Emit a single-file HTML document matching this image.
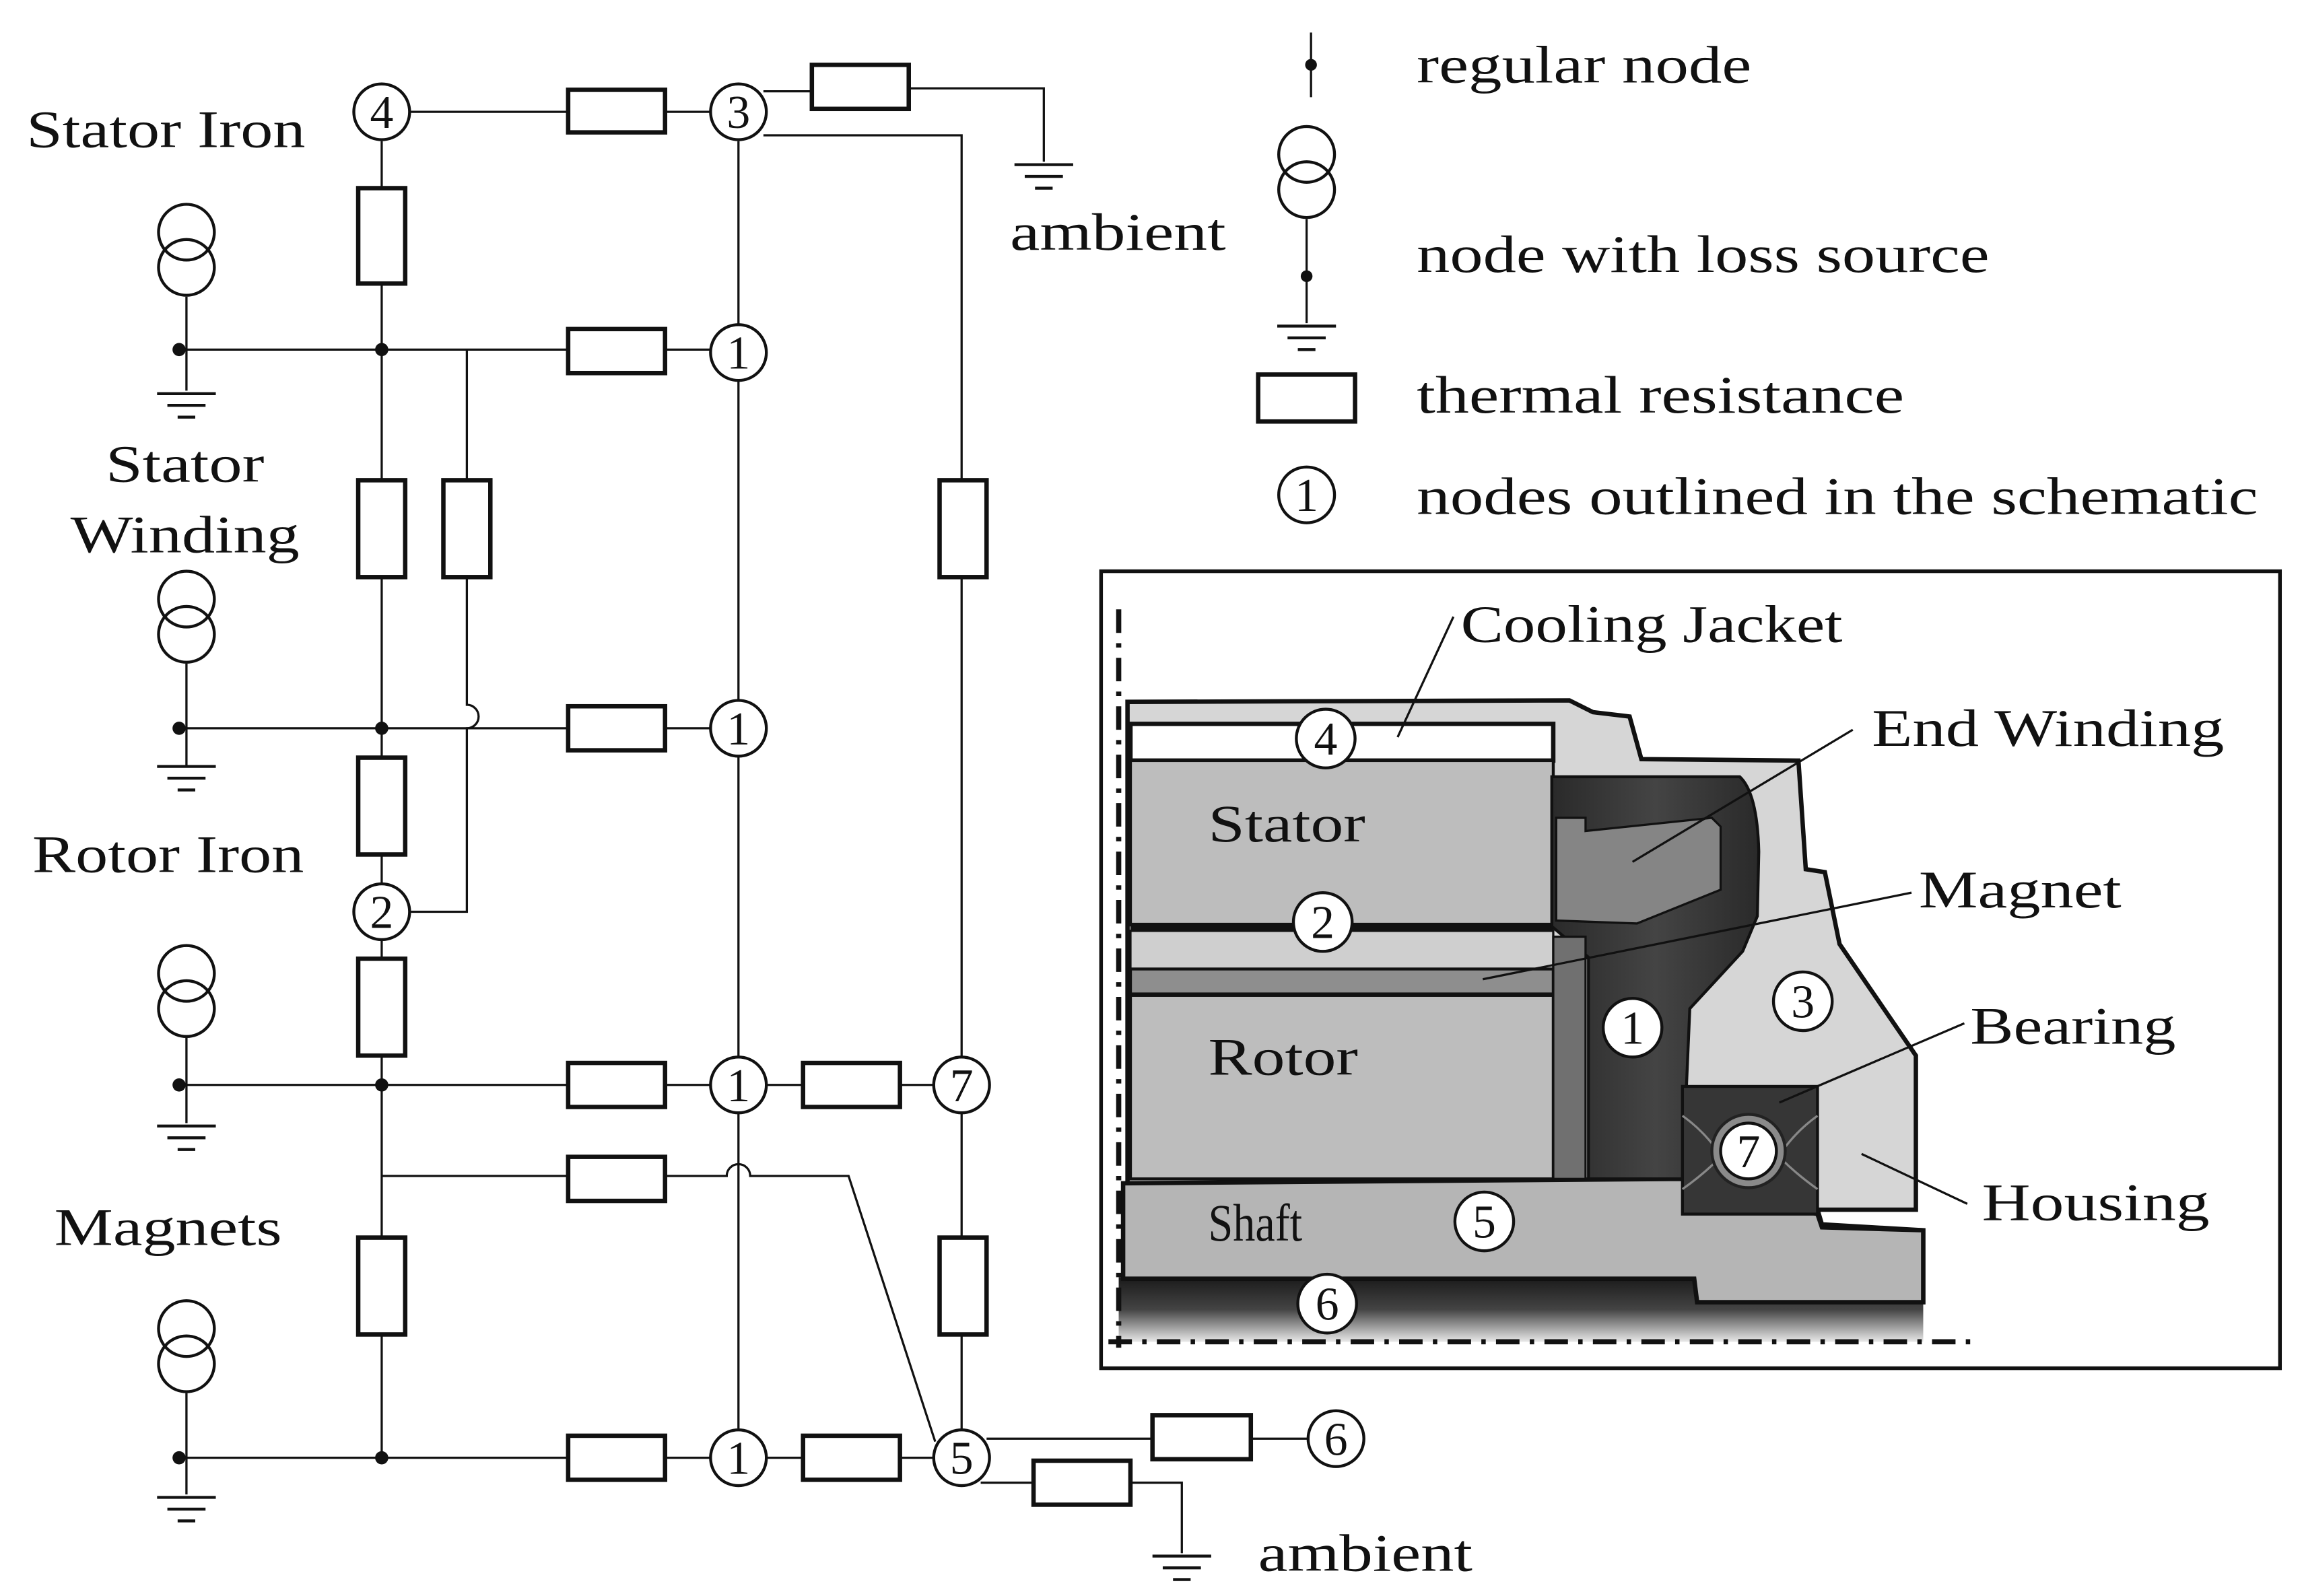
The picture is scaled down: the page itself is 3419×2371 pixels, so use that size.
<!DOCTYPE html>
<html><head><meta charset="utf-8"><style>
html,body{margin:0;padding:0;background:#fff}
svg{display:block}
text{font-family:"Liberation Serif",serif;fill:#111}
</style></head><body>
<svg width="3419" height="2371" viewBox="0 0 1568 1087" xmlns="http://www.w3.org/2000/svg">
<defs>
<linearGradient id="g6" x1="0" y1="0" x2="0" y2="1"><stop offset="0" stop-color="#1a1a1a"/><stop offset="0.5" stop-color="#444"/><stop offset="1" stop-color="#e8e8e8"/></linearGradient>
<linearGradient id="gd" x1="0" y1="0" x2="1" y2="0"><stop offset="0" stop-color="#2a2a2a"/><stop offset="0.5" stop-color="#444"/><stop offset="1" stop-color="#2a2a2a"/></linearGradient>
<g id="gnd"><line x1="-20" y1="0" x2="20" y2="0"/><line x1="-13" y1="8" x2="13" y2="8"/><line x1="-6" y1="16" x2="6" y2="16"/></g>
<g id="src"><circle cx="0" cy="0" r="19"/><circle cx="0" cy="24" r="19"/></g>
</defs>

<g stroke="#111" stroke-width="1.5" fill="none">
<line x1="280" y1="76" x2="484" y2="76"/>
<path d="M520 62 H553 M619 60 H711 V110"/>
<path d="M520 92 H655 V720"/>
<line x1="503" y1="96" x2="503" y2="973"/>
<line x1="260" y1="96" x2="260" y2="993"/>
<line x1="122" y1="238" x2="484" y2="238"/>
<path d="M318 238 V480 a8 8 0 0 1 0 16 V621 H280"/>
<line x1="122" y1="496" x2="484" y2="496"/>
<line x1="122" y1="739" x2="484" y2="739"/>
<line x1="522" y1="739" x2="636" y2="739"/>
<path d="M260 801 H495 a8 8 0 0 1 16 0 H578 L637 982"/>
<line x1="122" y1="993" x2="484" y2="993"/>
<line x1="522" y1="993" x2="636" y2="993"/>
<line x1="655" y1="758" x2="655" y2="974"/>
<path d="M672 980 H891"/>
<path d="M668 1010 H805 V1058"/>
<path d="M127 202 V266 M127 452 V522 M127 707 V765 M127 949 V1018"/>
</g>
<g stroke="#111" stroke-width="2" fill="none">
<use href="#gnd" x="127" y="268"/><use href="#gnd" x="127" y="522"/><use href="#gnd" x="127" y="767"/><use href="#gnd" x="127" y="1020"/>
<use href="#gnd" x="711" y="112"/><use href="#gnd" x="805" y="1060"/><use href="#gnd" x="890" y="222"/>
<use href="#src" x="127" y="158"/><use href="#src" x="127" y="408"/><use href="#src" x="127" y="663"/><use href="#src" x="127" y="905"/>
<use href="#src" x="890" y="105"/>
</g>
<g fill="#111">
<circle cx="122" cy="238" r="4.5"/><circle cx="260" cy="238" r="4.5"/>
<circle cx="122" cy="496" r="4.5"/><circle cx="260" cy="496" r="4.5"/>
<circle cx="122" cy="739" r="4.5"/><circle cx="260" cy="739" r="4.5"/>
<circle cx="122" cy="993" r="4.5"/><circle cx="260" cy="993" r="4.5"/>
<circle cx="893" cy="44" r="4"/><circle cx="890" cy="188" r="4"/>
</g>
<g stroke="#111" stroke-width="1.5"><line x1="893" y1="22" x2="893" y2="66"/><line x1="890" y1="149" x2="890" y2="220"/></g>
<g stroke="#111" stroke-width="3" fill="#fff">
<rect x="387" y="61" width="66" height="29"/>
<rect x="553" y="44" width="66" height="30"/>
<rect x="244" y="128" width="32" height="65"/>
<rect x="387" y="224" width="66" height="30"/>
<rect x="244" y="327" width="32" height="66"/>
<rect x="302" y="327" width="32" height="66"/>
<rect x="640" y="327" width="32" height="66"/>
<rect x="387" y="481" width="66" height="30"/>
<rect x="244" y="516" width="32" height="66"/>
<rect x="244" y="653" width="32" height="66"/>
<rect x="387" y="724" width="66" height="30"/>
<rect x="547" y="724" width="66" height="30"/>
<rect x="387" y="788" width="66" height="30"/>
<rect x="244" y="843" width="32" height="66"/>
<rect x="640" y="843" width="32" height="66"/>
<rect x="387" y="978" width="66" height="30"/>
<rect x="547" y="978" width="66" height="30"/>
<rect x="785" y="964" width="67" height="30"/>
<rect x="704" y="995" width="66" height="30"/>
<rect x="857" y="255" width="66" height="32"/>
</g>
<g stroke="#111" stroke-width="2" fill="#fff">
<circle cx="260" cy="76" r="19"/><circle cx="503" cy="76" r="19"/>
<circle cx="503" cy="240" r="19"/><circle cx="503" cy="496" r="19"/>
<circle cx="260" cy="621" r="19"/><circle cx="503" cy="739" r="19"/><circle cx="655" cy="739" r="19"/>
<circle cx="503" cy="993" r="19"/><circle cx="655" cy="993" r="19"/><circle cx="910" cy="980" r="19"/>
<circle cx="890" cy="337" r="19"/>
</g>
<g font-size="32" text-anchor="middle">
<text x="260" y="87">4</text><text x="503" y="87">3</text>
<text x="503" y="251">1</text><text x="503" y="507">1</text>
<text x="260" y="632">2</text><text x="503" y="750">1</text><text x="655" y="750">7</text>
<text x="503" y="1004">1</text><text x="655" y="1004">5</text><text x="910" y="991">6</text>
<text x="890" y="348">1</text>
</g>
<g font-size="36" lengthAdjust="spacingAndGlyphs">
<text x="18" y="100" textLength="190" lengthAdjust="spacingAndGlyphs">Stator Iron</text>
<text x="72" y="328" textLength="108" lengthAdjust="spacingAndGlyphs">Stator</text>
<text x="48" y="376" textLength="156" lengthAdjust="spacingAndGlyphs">Winding</text>
<text x="22" y="594" textLength="185" lengthAdjust="spacingAndGlyphs">Rotor Iron</text>
<text x="37" y="848" textLength="155" lengthAdjust="spacingAndGlyphs">Magnets</text>
<text x="688" y="170" textLength="147" lengthAdjust="spacingAndGlyphs">ambient</text>
<text x="857" y="1070" textLength="146" lengthAdjust="spacingAndGlyphs">ambient</text>
<text x="965" y="56" textLength="228" lengthAdjust="spacingAndGlyphs">regular node</text>
<text x="965" y="185" textLength="390" lengthAdjust="spacingAndGlyphs">node with loss source</text>
<text x="965" y="281" textLength="332" lengthAdjust="spacingAndGlyphs">thermal resistance</text>
<text x="965" y="350" textLength="573" lengthAdjust="spacingAndGlyphs">nodes outlined in the schematic</text>
</g>

<rect x="750" y="389" width="803" height="543" fill="#fff" stroke="#111" stroke-width="2.5"/>
<rect x="762" y="870" width="548" height="44" fill="url(#g6)"/>
<polygon points="768,478 1069,477 1085,485 1110,488 1118,517 1225,518 1230,592 1243,594 1253,643 1305,719 1305,824 1238,824 1241,834 1310,838 1310,887 1156,887 1154,871 768,871" fill="#d6d6d6" stroke="#111" stroke-width="3"/>
<polygon points="765,806 1146,803 1238,827 1241,836 1310,838 1310,887 1156,887 1154,871 765,871" fill="#b5b5b5" stroke="#111" stroke-width="3"/>
<rect x="770" y="493" width="288" height="25" fill="#fff" stroke="#111" stroke-width="3"/>
<rect x="770" y="518" width="288" height="112" fill="#bdbdbd" stroke="#111" stroke-width="2"/>
<line x1="770" y1="631" x2="1058" y2="631" stroke="#111" stroke-width="5"/>
<rect x="770" y="634" width="288" height="26" fill="#cfcfcf" stroke="#111" stroke-width="1.5"/>
<rect x="770" y="660" width="288" height="17" fill="#8e8e8e" stroke="#111" stroke-width="2"/>
<rect x="770" y="678" width="288" height="125" fill="#bdbdbd" stroke="#111" stroke-width="2"/>
<path d="M1057,529 H1185 Q1197,540 1198,580 L1197,624 L1187,648 L1151,687 L1146,803 H1082 V652 L1057,631 Z" fill="url(#gd)" stroke="#111" stroke-width="2"/>
<polygon points="1060,557 1080,557 1080,566 1166,557 1172,563 1172,606 1115,629 1060,627" fill="#858585" stroke="#111" stroke-width="1.5"/>
<rect x="1058" y="638" width="22" height="165" fill="#707070" stroke="#111" stroke-width="1.5"/>
<rect x="1146" y="740" width="92" height="87" fill="#363636" stroke="#111" stroke-width="2"/>
<path d="M1146,760 Q1160,770 1170,784 M1238,760 Q1224,770 1214,784 M1146,810 Q1160,800 1170,790 M1238,810 Q1224,800 1214,790" stroke="#888" stroke-width="1.5" fill="none"/>
<circle cx="1191" cy="784" r="25" fill="#8a8a8a" stroke="#222" stroke-width="2"/>
<g stroke="#111" stroke-width="3.5" stroke-dasharray="16 7 3 7" fill="none">
<line x1="762" y1="415" x2="762" y2="918"/>
<line x1="755" y1="914" x2="1345" y2="914"/>
</g>
<g stroke="#111" stroke-width="2" fill="#fff">
<circle cx="903" cy="503" r="20"/><circle cx="901" cy="628" r="20"/><circle cx="1112" cy="700" r="20"/>
<circle cx="1228" cy="682" r="20"/><circle cx="1191" cy="784" r="19"/><circle cx="1011" cy="832" r="20"/><circle cx="904" cy="888" r="20"/>
</g>
<g font-size="32" text-anchor="middle">
<text x="903" y="514">4</text><text x="901" y="639">2</text><text x="1112" y="711">1</text>
<text x="1228" y="693">3</text><text x="1191" y="795">7</text><text x="1011" y="843">5</text><text x="904" y="899">6</text>
</g>
<g stroke="#111" stroke-width="1.5">
<line x1="990" y1="420" x2="952" y2="502"/>
<line x1="1262" y1="497" x2="1112" y2="587"/>
<line x1="1302" y1="608" x2="1010" y2="667"/>
<line x1="1338" y1="697" x2="1212" y2="751"/>
<line x1="1340" y1="820" x2="1268" y2="786"/>
</g>
<g font-size="36">
<text x="995" y="437" textLength="260" lengthAdjust="spacingAndGlyphs">Cooling Jacket</text>
<text x="1275" y="508" textLength="240" lengthAdjust="spacingAndGlyphs">End Winding</text>
<text x="1307" y="618" textLength="138" lengthAdjust="spacingAndGlyphs">Magnet</text>
<text x="1342" y="711" textLength="140" lengthAdjust="spacingAndGlyphs">Bearing</text>
<text x="1350" y="831" textLength="155" lengthAdjust="spacingAndGlyphs">Housing</text>
<text x="823" y="573" textLength="107" lengthAdjust="spacingAndGlyphs">Stator</text>
<text x="823" y="732" textLength="102" lengthAdjust="spacingAndGlyphs">Rotor</text>
<text x="823" y="845" textLength="64" lengthAdjust="spacingAndGlyphs">Shaft</text>
</g>
</svg>
</body></html>
